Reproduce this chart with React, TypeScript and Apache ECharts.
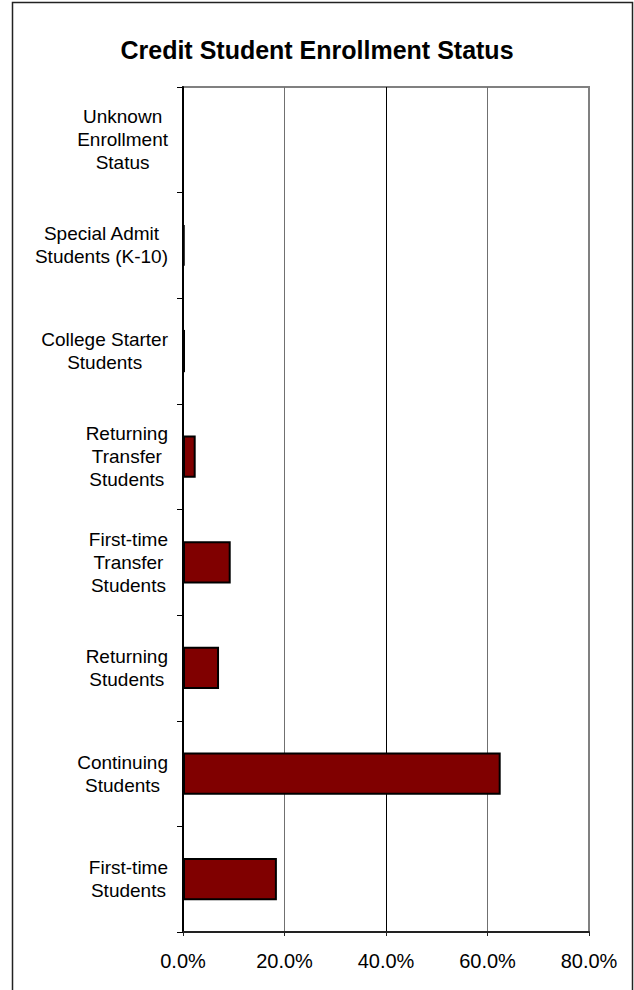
import React, { useEffect, useRef } from "react";
import * as echarts from "echarts";

const TITLE = "Credit Student Enrollment Status";

const categories: string[] = [
  "Unknown\nEnrollment\nStatus",
  "Special Admit\nStudents (K-10)",
  "College Starter\nStudents",
  "Returning\nTransfer\nStudents",
  "First-time\nTransfer\nStudents",
  "Returning\nStudents",
  "Continuing\nStudents",
  "First-time\nStudents",
];

const shares: number[] = [0.0, 0.003, 0.004, 0.025, 0.094, 0.071, 0.626, 0.185];

const xMin = 0;
const xMax = 0.8;
const xStep = 0.2;

export default function App() {
  const ref = useRef<HTMLDivElement>(null);

  useEffect(() => {
    document.body.style.margin = "0";
    if (!ref.current) return;
    const chart = echarts.init(ref.current, undefined, { renderer: "svg" });
    const font = "Liberation Sans, Arial, sans-serif";
    chart.setOption({
      animation: false,
      backgroundColor: "#ffffff",
      title: {
        text: TITLE,
        left: "center",
        top: 32,
        textStyle: { fontFamily: font, fontSize: 25, fontWeight: "bold", color: "#000" },
      },
      graphic: [
        {
          type: "rect",
          shape: { x: 12.5, y: 2.5, width: 620, height: 1000 },
          style: { fill: "none", stroke: "#222", lineWidth: 1.5 },
          silent: true,
        },
      ],
      grid: {
        left: 183,
        right: 45,
        top: 87,
        bottom: 58,
        show: true,
        borderColor: "#808080",
        borderWidth: 2,
      },
      xAxis: {
        type: "value",
        min: xMin,
        max: xMax,
        interval: xStep,
        axisLine: { show: true, lineStyle: { color: "#222", width: 2 } },
        axisTick: { show: true, length: 4, lineStyle: { color: "#222", width: 1 } },
        splitLine: {
          show: true,
          lineStyle: { color: ["#808080", "#707070", "#000000", "#707070", "#808080"], width: 1 },
        },
        axisLabel: {
          formatter: (v: number) => (v * 100).toFixed(1) + "%",
          fontFamily: font,
          fontSize: 20,
          color: "#000",
          margin: 19,
        },
      },
      yAxis: {
        type: "category",
        inverse: true,
        data: categories,
        axisLine: { show: true, lineStyle: { color: "#000", width: 2 } },
        axisTick: { show: true, length: 6, inside: false, lineStyle: { color: "#000", width: 1 } },
        splitLine: { show: false },
        axisLabel: {
          interval: 0,
          align: "right",
          margin: 15,
          fontFamily: font,
          fontSize: 19,
          color: "#000",
          formatter: (v: string) =>
            v
              .split("\n")
              .map((l) => `{c|${l}}`)
              .join("\n"),
          rich: {
            c: { align: "center", fontFamily: font, fontSize: 19, lineHeight: 23, color: "#000" },
          },
        },
      },
      series: [
        {
          type: "bar",
          data: shares,
          barCategoryGap: "60%",
          itemStyle: { color: "#800000", borderColor: "#000", borderWidth: 2 },
        },
      ],
    });
    return () => chart.dispose();
  }, []);

  return <div ref={ref} style={{ width: 634, height: 990 }} />;
}
